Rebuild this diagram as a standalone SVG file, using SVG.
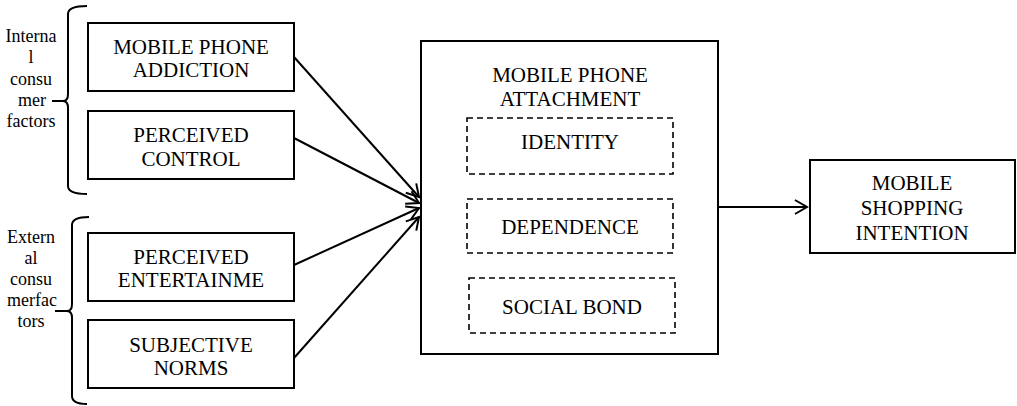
<svg xmlns="http://www.w3.org/2000/svg" width="1017" height="406" viewBox="0 0 1017 406">
<style>
  .box { fill: #fff; stroke: #000; stroke-width: 2; }
  .dash { fill: none; stroke: #000; stroke-width: 1.6; stroke-dasharray: 6 4; }
  .t { font-family: "Liberation Serif", "Times New Roman", serif; font-size: 21px; fill: #000; text-anchor: middle; }
  .s { font-family: "Liberation Serif", "Times New Roman", serif; font-size: 18px; fill: #000; text-anchor: middle; }
  .br { fill: none; stroke: #000; stroke-width: 2; }
  .c { fill: none; stroke: #000; stroke-width: 2; }
</style>
<defs>
  <marker id="arr" markerUnits="userSpaceOnUse" markerWidth="16" markerHeight="18" refX="13" refY="8" orient="auto" viewBox="0 0 16 16">
    <path d="M1,1 L13,8 L1,15" fill="none" stroke="#000" stroke-width="2"/>
  </marker>
</defs>

<g id="internal-factors">
  <path class="br" d="M87,6 Q68,6 68,14 L68,94 Q68,101 63,101 Q68,101 68,108 L68,186 Q68,194 87,194"/>
  <line class="br" x1="52" y1="101" x2="64" y2="101"/>
  <text class="s" x="31" y="42">Interna</text>
  <text class="s" x="31" y="63">l</text>
  <text class="s" x="31" y="85">consu</text>
  <text class="s" x="32" y="106">mer</text>
  <text class="s" x="31" y="127">factors</text>
</g>

<g id="external-factors">
  <path class="br" d="M89,217 Q72,217 72,225 L72,304 Q72,311 67,311 Q72,311 72,318 L72,396 Q72,404 87,404"/>
  <line class="br" x1="55" y1="311" x2="68" y2="311"/>
  <text class="s" x="31" y="243">Extern</text>
  <text class="s" x="31" y="264">al</text>
  <text class="s" x="31" y="285">consu</text>
  <text class="s" x="32" y="306">merfac</text>
  <text class="s" x="31" y="327">tors</text>
</g>

<g id="mobile-phone-addiction">
  <rect class="box" x="88" y="23" width="206" height="68"/>
  <text class="t" x="191" y="54">MOBILE PHONE</text>
  <text class="t" x="191" y="77">ADDICTION</text>
</g>

<g id="perceived-control">
  <rect class="box" x="88" y="111" width="206" height="68"/>
  <text class="t" x="191" y="142">PERCEIVED</text>
  <text class="t" x="191" y="166">CONTROL</text>
</g>

<g id="perceived-entertainment">
  <rect class="box" x="88" y="233" width="206" height="68"/>
  <text class="t" x="191" y="264">PERCEIVED</text>
  <text class="t" x="191" y="287">ENTERTAINME</text>
</g>

<g id="subjective-norms">
  <rect class="box" x="88" y="320" width="206" height="68"/>
  <text class="t" x="191" y="352">SUBJECTIVE</text>
  <text class="t" x="191" y="375">NORMS</text>
</g>

<g id="mobile-phone-attachment">
  <rect class="box" x="421" y="41" width="297" height="313"/>
  <text class="t" x="570" y="82">MOBILE PHONE</text>
  <text class="t" x="570" y="106">ATTACHMENT</text>
</g>

<g id="identity">
  <rect class="dash" x="467" y="118" width="206" height="56"/>
  <text class="t" x="570" y="149">IDENTITY</text>
</g>

<g id="dependence">
  <rect class="dash" x="467" y="199" width="206" height="54"/>
  <text class="t" x="570" y="234">DEPENDENCE</text>
</g>

<g id="social-bond">
  <rect class="dash" x="469" y="278" width="206" height="55"/>
  <text class="t" x="572" y="314">SOCIAL BOND</text>
</g>

<g id="mobile-shopping-intention">
  <rect class="box" x="810" y="160" width="205" height="93"/>
  <text class="t" x="912" y="190">MOBILE</text>
  <text class="t" x="912" y="215">SHOPPING</text>
  <text class="t" x="912" y="240">INTENTION</text>
</g>

<g id="connectors">
  <line class="c" x1="294" y1="57" x2="419" y2="197" marker-end="url(#arr)"/>
  <line class="c" x1="294" y1="138" x2="419" y2="203" marker-end="url(#arr)"/>
  <line class="c" x1="294" y1="265" x2="419" y2="208" marker-end="url(#arr)"/>
  <line class="c" x1="294" y1="358" x2="419" y2="217" marker-end="url(#arr)"/>
  <line class="c" x1="718" y1="207" x2="807" y2="207" marker-end="url(#arr)"/>
</g>
</svg>
